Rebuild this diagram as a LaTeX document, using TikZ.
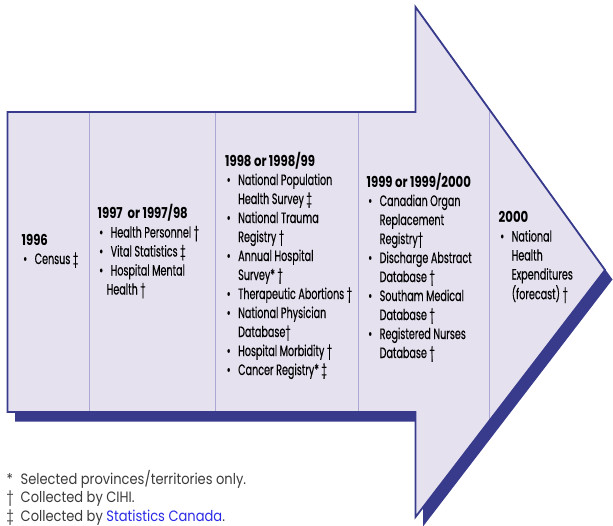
\documentclass[tikz,border=0pt]{standalone}
\usepackage{fontspec}
\setmainfont{Poppins}
\newfontfamily\colfont{Poppins}[FakeStretch=0.64, FakeBold=0.35, BoldFeatures={FakeStretch=0.78, FakeBold=0}]
\newfontfamily\notefont{Poppins}[FakeStretch=0.87]
\definecolor{arrowfill}{HTML}{E5E1EF}
\definecolor{arrowblue}{HTML}{383B8C}
\definecolor{divline}{HTML}{ACA8D6}
\definecolor{notegray}{HTML}{3A3A3A}
\definecolor{linkblue}{HTML}{2A2AE6}
\newcommand\bl{\makebox[13pt][l]{\hspace{1.5pt}•}}
\newcommand\hd[1]{\multicolumn{2}{@{}l@{}}{\bfseries #1}}
\begin{document}
\begin{tikzpicture}[x=1pt,y=-1pt,
  coltext/.style={anchor=base west, inner sep=0pt, font=\colfont\fontsize{15}{19}\selectfont, text=black},
  notetext/.style={anchor=base west, inner sep=0pt, font=\notefont\fontsize{15}{18.5}\selectfont, text=notegray},
  divider/.style={draw=divline, line width=1pt},
  outline/.style={draw=arrowblue, line width=1.8pt, line join=miter},
]
\useasboundingbox (0,0) rectangle (613,525);
% shadow
\fill[arrowblue] (15,121.5) -- (423,121.5) -- (423,16.5) -- (612.5,279.5) -- (423,526.5) -- (423,421.5) -- (15,421.5) -- cycle;
% arrow body
\fill[arrowfill] (7.5,112) -- (415.5,112) -- (415.5,7) -- (605,270) -- (415.5,517) -- (415.5,412) -- (7.5,412) -- cycle;
\begin{scope}
\clip (7.5,112) -- (415.5,112) -- (415.5,7) -- (605,270) -- (415.5,517) -- (415.5,412) -- (7.5,412) -- cycle;
\foreach \x in {89,215,358,489} \draw[divider] (\x,0) -- (\x,525);
\end{scope}
\draw[outline] (7.5,112) -- (415.5,112) -- (415.5,7) -- (605,270) -- (415.5,517) -- (415.5,412) -- (7.5,412) -- cycle;

\node[coltext] (col1) at (21.5,245) {\begin{tabular}[t]{@{}l@{}l@{}}
\hd{1996}\\
\bl & Census ‡
\end{tabular}};

\node[coltext] (col2) at (97.5,218.5) {\begin{tabular}[t]{@{}l@{}l@{}}
\hd{1997\ \ or 1997/98}\\
\bl & Health Personnel †\\
\bl & Vital Statistics ‡\\
\bl & Hospital Mental\\
 & \hspace{-4pt}Health †
\end{tabular}};

\node[coltext] (col3) at (225,166) {\begin{tabular}[t]{@{}l@{}l@{}}
\hd{1998 or 1998/99}\\
\bl & National Population\\
 & Health Survey ‡\\
\bl & National Trauma\\
 & Registry †\\
\bl & Annual Hospital\\
 & Survey* †\\
\bl & Therapeutic Abortions †\\
\bl & National Physician\\
 & Database†\\
\bl & Hospital Morbidity †\\
\bl & Cancer Registry* ‡
\end{tabular}};

\node[coltext] (col4) at (366.5,187) {\begin{tabular}[t]{@{}l@{}l@{}}
\hd{1999 or 1999/2000}\\
\bl & Canadian Organ\\
 & Replacement\\
 & Registry†\\
\bl & Discharge Abstract\\
 & Database †\\
\bl & Southam Medical\\
 & Database †\\
\bl & Registered Nurses\\
 & Database †
\end{tabular}};

\node[coltext] (col5) at (498.5,222.5) {\begin{tabular}[t]{@{}l@{}l@{}}
\hd{2000}\\
\bl & National\\
 & Health\\
 & Expenditures\\
 & (forecast) †
\end{tabular}};

\node[notetext] (notes) at (6.5,484) {\begin{tabular}[t]{@{}p{14pt}@{}l@{}}
* & Selected provinces/territories only.\\
† & Collected by CIHI.\\
‡ & Collected by \textcolor{linkblue}{Statistics Canada}.
\end{tabular}};
\end{tikzpicture}
\end{document}
